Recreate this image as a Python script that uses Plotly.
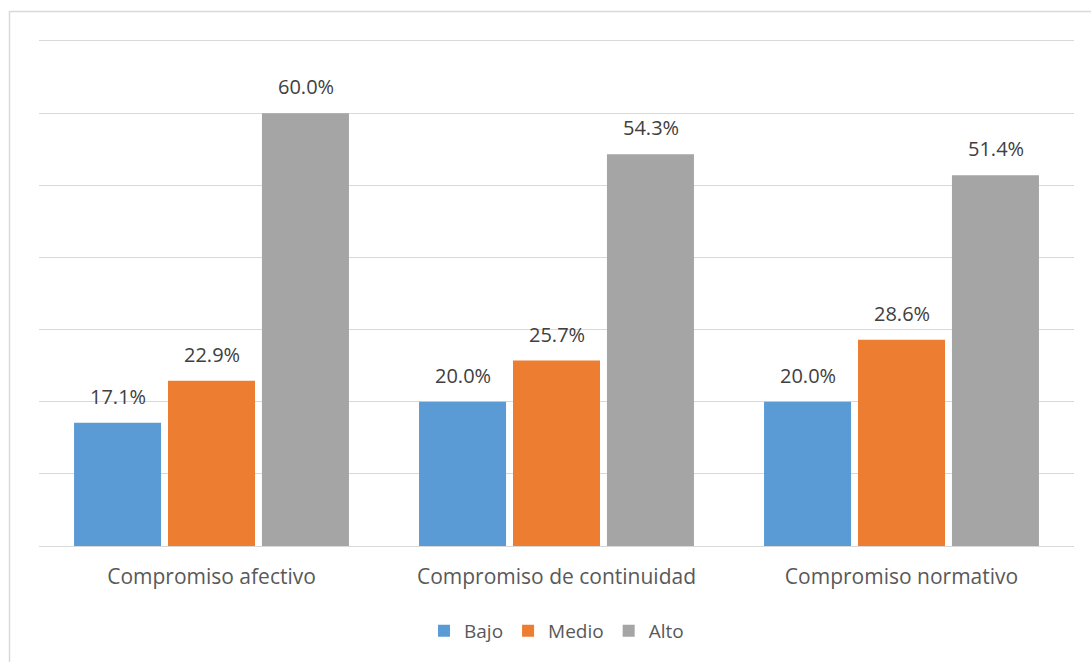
import plotly.graph_objects as go

categories = ["Compromiso afectivo", "Compromiso de continuidad", "Compromiso normativo"]
series_names = ["Bajo", "Medio", "Alto"]
bajo = [17.1, 20.0, 20.0]
medio = [22.9, 25.7, 28.6]
alto = [60.0, 54.3, 51.4]
colors = ["#5B9BD5", "#ED7D31", "#A5A5A5"]

FONT = "Open Sans, sans-serif"
fig = go.Figure()
annotations = []
offsets = [-94, 0, 94]
for name, vals, col, off in zip(series_names, [bajo, medio, alto], colors, offsets):
    fig.add_trace(go.Bar(
        x=categories, y=vals, name=name, marker=dict(color=col, line=dict(width=0)),
    ))
    for c, v in zip(categories, vals):
        annotations.append(dict(x=c, y=v, xref="x", yref="y", text=f"{v:.1f}%",
                                showarrow=False, xshift=off, yshift=11, yanchor="bottom",
                                font=dict(size=20, color="#404040", family=FONT)))

fig.update_layout(
    width=1091, height=662,
    margin=dict(l=39, r=17, t=41, b=116),
    paper_bgcolor="white", plot_bgcolor="white",
    font=dict(family=FONT, color="#595959"),
    barmode="group", bargap=0.183, bargroupgap=0.074,
    xaxis=dict(showline=True, mirror=True, linecolor="#d9d9d9", linewidth=1, ticks="",
               tickfont=dict(size=21, color="#595959"), ticklabelstandoff=12),
    yaxis=dict(range=[0, 70], dtick=10, showgrid=True, gridcolor="#d9d9d9",
               gridwidth=1, showticklabels=False, zeroline=False),
    legend=dict(orientation="h", x=0.5, xanchor="center", y=-0.168, yanchor="middle",
                font=dict(size=19, color="#595959"), itemwidth=30, traceorder="normal"),
    annotations=annotations,
    shapes=[dict(type="rect", xref="paper", yref="paper",
                 x0=-0.0285, x1=1.05, y0=-0.35, y1=1.0584,
                 line=dict(color="#d9d9d9", width=1.5), layer="below")],
)

fig.write_html("out.html")
